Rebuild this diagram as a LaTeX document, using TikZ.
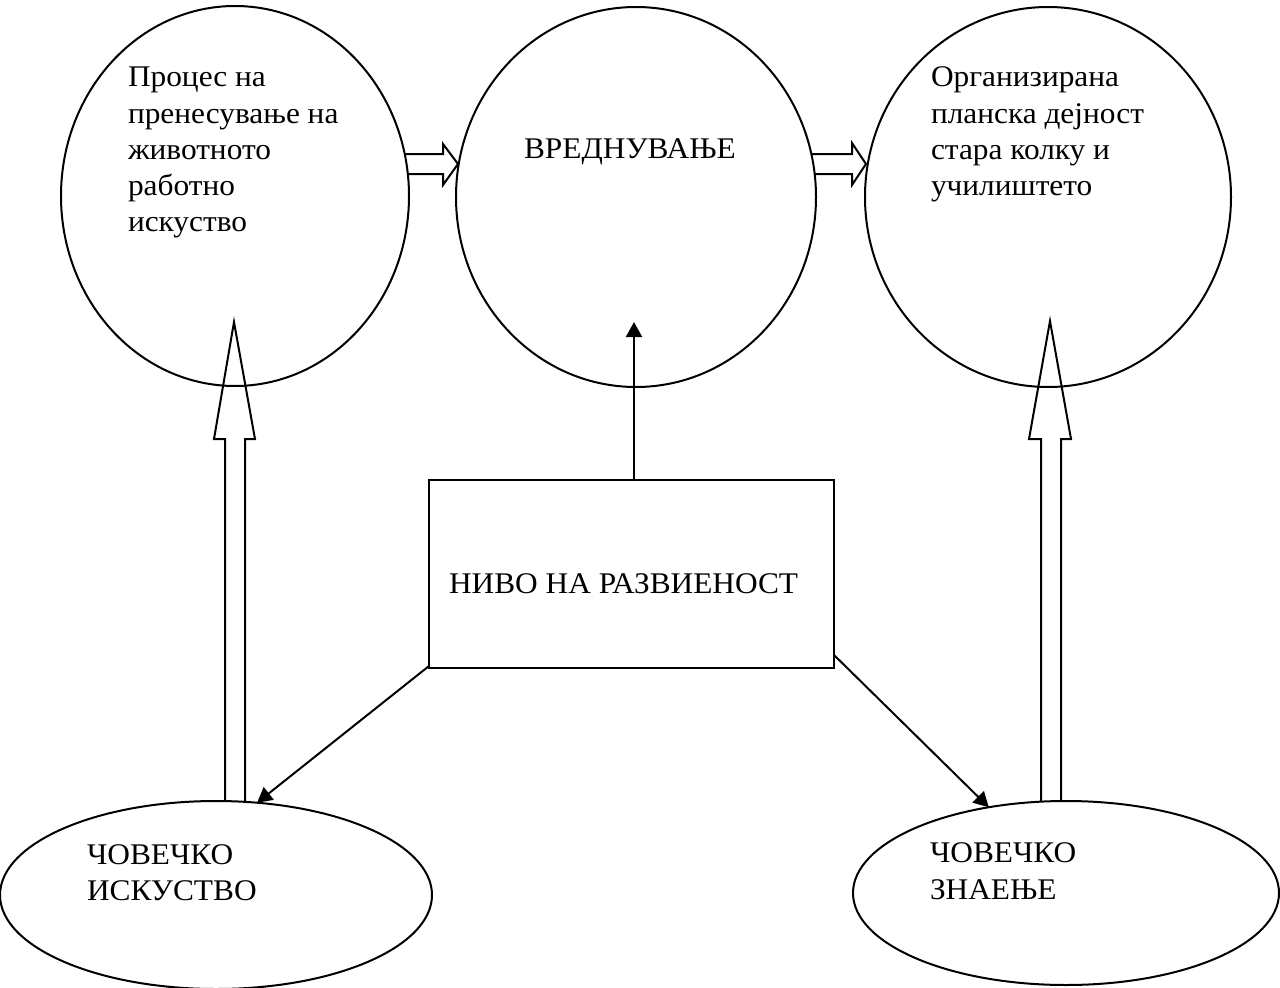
\documentclass[tikz,border=0pt]{standalone}
\usepackage{fontspec}
\setmainfont{Liberation Serif}[FakeStretch=1.045]
\usetikzlibrary{shapes.geometric,arrows.meta,calc}
\begin{document}
\begin{tikzpicture}[x=1pt,y=-1pt,
  every node/.style={inner sep=0pt,outer sep=0pt},
  ell/.style={ellipse,draw,line width=2pt},
  boxst/.style={rectangle,draw,line width=2pt},
  txt/.style={anchor=base west,align=left,font=\fontsize{30}{36.3}\selectfont},
  hollow/.style={line width=2pt,line join=miter},
  thinarrow/.style={line width=2pt,-{Triangle[length=15pt,width=16pt]}}]
\useasboundingbox (0,0) rectangle (1280,988);
\fill[white] (0,0) rectangle (1280,988);
% ellipses
\node[ell,minimum width=348pt,minimum height=380pt] (e1) at (235,196) {};
\node[ell,minimum width=360pt,minimum height=380pt] (e2) at (636,197) {};
\node[ell,minimum width=366pt,minimum height=380pt] (e3) at (1048,197) {};
\node[ell,minimum width=432pt,minimum height=188pt] (e4) at (216,895) {};
\node[ell,minimum width=426pt,minimum height=184pt] (e5) at (1066,893) {};
\node[boxst,minimum width=405pt,minimum height=188pt] (box) at (631.5,574) {};
% texts (base anchor = baseline of the last line)
\node[txt] (t1) at (128,231.9) {Процес на\\пренесување на\\животното\\работно\\искуство};
\node[txt] (t2) at (524,158.3) {ВРЕДНУВАЊЕ};
\node[txt] (t3) at (931,195.6) {Организирана\\планска дејност\\стара колку и\\училиштето};
\node[txt] (t4) at (87,900.7) {ЧОВЕЧКО\\ИСКУСТВО};
\node[txt] (t5) at (930,899) {ЧОВЕЧКО\\ЗНАЕЊЕ};
\node[txt] (t6) at (449,593) {НИВО НА РАЗВИЕНОСТ};
% hollow arrows
\draw[hollow] (404.7,154) -- (443,154) -- (443,144) -- (458,164) -- (443,185) -- (443,174) -- (407.8,174);
\draw[hollow] (811.3,154) -- (852,154) -- (852,143) -- (866,164) -- (852,185) -- (852,174) -- (814.7,174);
\draw[hollow] (225,801) -- (225,439) -- (214,439) -- (234,322) -- (255,439) -- (245,439) -- (245,801.5);
\draw[hollow] (1041,801.6) -- (1041,439) -- (1029,439) -- (1050,321) -- (1071,439) -- (1061,439) -- (1061,801);
% thin arrows
\coordinate (c2) at (634,322);
\draw[thinarrow] (c2 |- box.north) -- (c2);
\draw[thinarrow] ($(box.south west)+(0,-2)$) -- (e4.66);
\draw[thinarrow] ($(box.south east)+(0,-13)$) -- (e5.132.6);
\end{tikzpicture}
\end{document}
